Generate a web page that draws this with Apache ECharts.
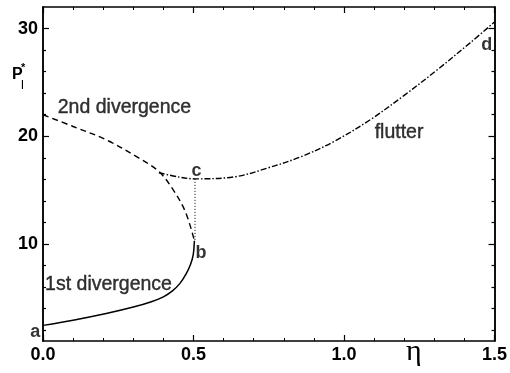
<!DOCTYPE html>
<html>
<head>
<meta charset="utf-8">
<script src="https://cdn.jsdelivr.net/npm/echarts@6/dist/echarts.min.js"></script>
<style>html,body{margin:0;padding:0;background:#fff;}#c{width:510px;height:373px;}</style>
</head>
<body>
<div id="c"></div>
<script>
// ---- data ----
var xTicks = [0, 0.5, 1.0, 1.5];
var yTicks = [10, 20, 30];
var yMinor = [2, 4, 6, 8, 12, 14, 16, 18, 22, 24, 26, 28];

// 1st divergence (solid) : [eta, P]
var firstDiv = [[0, 2.45], [0.1, 2.93], [0.21, 3.55], [0.3, 4.15], [0.36, 4.65], [0.4, 5.1], [0.43, 5.65], [0.455, 6.35], [0.475, 7.2], [0.49, 8.1], [0.499, 9.0], [0.503, 10.3]];
// 2nd divergence (dashed)
var secondDiv = [[0, 22.0], [0.1, 20.91], [0.21, 19.67], [0.319, 17.97], [0.385, 16.73], [0.429, 15.18], [0.473, 13.0], [0.503, 10.3]];
// flutter (dash-dot)
var flutter = [[0.385, 16.62], [0.451, 16.22], [0.505, 16.05], [0.64, 16.25], [0.748, 17.07], [0.857, 18.1], [0.969, 19.55], [1.088, 21.55], [1.2, 23.8], [1.309, 26.15], [1.418, 28.65], [1.5, 30.6]];
// dotted connector c-b
var connector = [[0.505, 16.05], [0.505, 10.3]];

// annotations
var noteText = ['2nd divergence', '1st divergence', 'flutter', 'a', 'b', 'c', 'd'];
var noteX = [0.049, 0.007, 1.102, -0.026, 0.525, 0.51, 1.474];
var noteY = [22.7, 6.2, 20.37, 1.81, 9.2, 16.8, 28.5];
var noteAlign = ['left', 'left', 'left', 'center', 'center', 'center', 'center'];

var chart = echarts.init(document.getElementById('c'));
var black = '#000';
var axisLine = {show: true, onZero: false, lineStyle: {color: black, width: 1.5}};
var tickFont = {color: black, fontFamily: 'Liberation Sans, Arial', fontWeight: 'bold', fontSize: 18};

function xAx(pos, labels) {
  return {
    type: 'value', min: 0, max: 1.5, interval: 0.5, position: pos,
    axisLine: axisLine,
    axisTick: {show: true, inside: true, length: 6, lineStyle: {color: black, width: 1.2}},
    minorTick: {show: true, splitNumber: 5, length: 3, lineStyle: {color: black, width: 1}},
    splitLine: {show: false}, minorSplitLine: {show: false},
    axisLabel: labels ? Object.assign({show: true, margin: 5, formatter: function (v) { return v.toFixed(1); }, showMinLabel: true, showMaxLabel: true}, tickFont) : {show: false}
  };
}
function yAx(pos, vals, len, labels) {
  return {
    type: 'value', min: 1, max: 32, position: pos,
    axisLine: axisLine,
    axisTick: {show: true, inside: true, length: len, customValues: vals, lineStyle: {color: black, width: 1.2}},
    splitLine: {show: false},
    axisLabel: labels ? Object.assign({show: true, margin: 5, customValues: vals}, tickFont) : {show: false}
  };
}

var noteData = noteText.map(function (t, i) {
  var big = t.length > 1;
  return {
    value: [noteX[i], noteY[i]], name: t,
    label: {
      show: true, position: 'inside', align: noteAlign[i], verticalAlign: 'middle',
      formatter: t, color: black,
      textBorderColor: black, textBorderWidth: big ? 0.4 : 0,
      fontFamily: 'Liberation Sans, Arial',
      fontSize: big ? 19.5 : 18, fontWeight: big ? 'normal' : 'bold'
    }
  };
});

chart.setOption({
  animation: false,
  backgroundColor: '#fff',
  grid: {left: 43, right: 12, top: 7, bottom: 32, containLabel: false},
  xAxis: [xAx('bottom', true), xAx('top', false)],
  yAxis: [yAx('left', yTicks, 6, true), yAx('left', yMinor, 3, false), yAx('right', yTicks, 6, false), yAx('right', yMinor, 3, false)],
  series: [
    {type: 'line', data: firstDiv, smooth: 0.35, symbol: 'none', lineStyle: {color: black, width: 1.5, type: 'solid'}},
    {type: 'line', data: secondDiv, smooth: 0.35, symbol: 'none', lineStyle: {color: black, width: 1.4, type: [6, 4]}},
    {type: 'line', data: flutter, smooth: 0.35, symbol: 'none', lineStyle: {color: black, width: 1.4, type: [6, 2, 1.5, 2]}},
    {type: 'line', data: connector, symbol: 'none', lineStyle: {color: black, width: 1, type: [1, 2]}},
    {type: 'scatter', data: noteData, symbolSize: 0, clip: false, silent: true}
  ],
  graphic: [
    {type: 'text', left: 12, top: 67, style: {text: 'P', fontFamily: 'Liberation Sans, Arial', fontWeight: 'bold', fontSize: 16, fill: black}},
    {type: 'text', left: 21, top: 62, style: {text: '*', fontFamily: 'Liberation Sans, Arial', fontWeight: 'bold', fontSize: 11, fill: black}},
    {type: 'text', left: 21, top: 79, style: {text: 'l', fontFamily: 'Liberation Sans, Arial', fontSize: 13, fill: black}},
    {type: 'text', left: 406, top: 337, style: {text: 'η', fontFamily: 'Liberation Serif, DejaVu Serif', fontSize: 30, fill: black}}
  ]
});
</script>
</body>
</html>
